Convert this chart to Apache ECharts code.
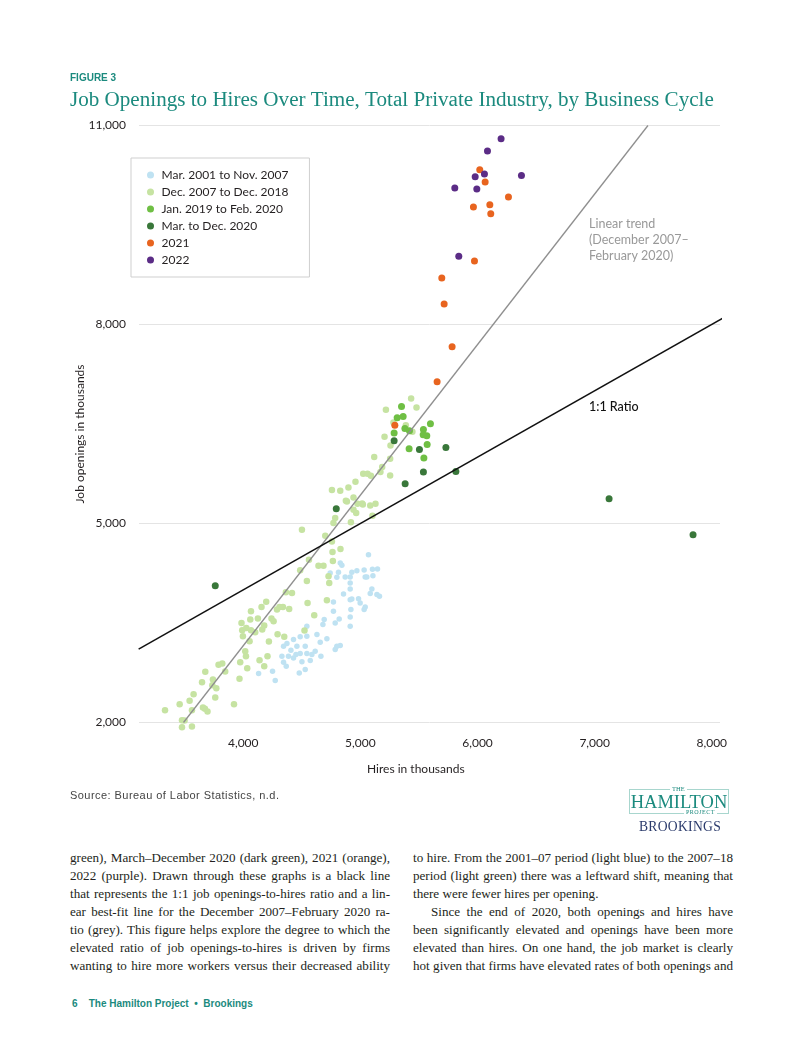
<!DOCTYPE html>
<html>
<head>
<meta charset="utf-8">
<script src="https://cdn.jsdelivr.net/npm/echarts@6/dist/echarts.min.js"></script>
<style>
  html, body { margin:0; padding:0; background:#fff; }
  body { width:802px; height:1037px; position:relative; overflow:hidden; }
  #chart { position:absolute; left:0; top:0; width:802px; height:800px; }
  .abs { position:absolute; }
  .col { position:absolute; top:849px; width:320px; font-family:"Liberation Serif", serif; font-size:13.1px; line-height:18px; color:#231f20; }
  .col div { text-align:justify; text-align-last:justify; white-space:nowrap; }
  .col div.last { text-align-last:left; }
  .col div.ind { text-indent:18px; }
  #src { left:70px; top:789px; font-family:"Liberation Sans", sans-serif; font-size:11px; letter-spacing:0.45px; color:#444; }
  #logo1 { left:629px; top:789px; width:100px; height:25px; border:1px solid #a8d6ce; box-sizing:border-box; text-align:center; font-family:"Liberation Serif", serif; color:#1b8a7e; font-size:18.5px; line-height:24px; }
  #logoThe { left:670px; top:785px; font-family:"Liberation Serif", serif; font-size:6.5px; line-height:7px; color:#1b8a7e; background:#fff; padding:0 2px; }
  #logoProj { left:684px; top:809px; font-family:"Liberation Serif", serif; font-size:6px; line-height:7px; color:#1b8a7e; background:#fff; padding:0 2px; letter-spacing:0.5px; }
  #logo2 { left:639px; top:819px; font-family:"Liberation Serif", serif; font-size:13.6px; color:#2a3a6b; letter-spacing:0.3px; }
  #foot { left:72px; top:998px; font-family:"Liberation Sans", sans-serif; font-size:10px; font-weight:bold; color:#1b8a7e; white-space:pre; }
</style>
</head>
<body>
<div id="chart"></div>
<div class="abs" id="src">Source: Bureau of Labor Statistics, n.d.</div>
<div class="abs" id="logo1">HAMILTON</div>
<div class="abs" id="logoThe">THE</div>
<div class="abs" id="logoProj">PROJECT</div>
<div class="abs" id="logo2">BROOKINGS</div>
<div class="col" style="left:70px;">
  <div>green), March–December 2020 (dark green), 2021 (orange),</div>
  <div>2022 (purple). Drawn through these graphs is a black line</div>
  <div>that represents the 1:1 job openings-to-hires ratio and a lin-</div>
  <div>ear best-fit line for the December 2007–February 2020 ra-</div>
  <div>tio (grey). This figure helps explore the degree to which the</div>
  <div>elevated ratio of job openings-to-hires is driven by firms</div>
  <div>wanting to hire more workers versus their decreased ability</div>
</div>
<div class="col" style="left:413px;">
  <div>to hire. From the 2001–07 period (light blue) to the 2007–18</div>
  <div>period (light green) there was a leftward shift, meaning that</div>
  <div class="last">there were fewer hires per opening.</div>
  <div class="ind">Since the end of 2020, both openings and hires have</div>
  <div>been significantly elevated and openings have been more</div>
  <div>elevated than hires. On one hand, the job market is clearly</div>
  <div>hot given that firms have elevated rates of both openings and</div>
</div>
<div class="abs" id="foot">6    The Hamilton Project  •  Brookings</div>
<script>
// ---- Data (hires, job openings), thousands ----
const seriesNames = ["Mar. 2001 to Nov. 2007","Dec. 2007 to Dec. 2018","Jan. 2019 to Feb. 2020","Mar. to Dec. 2020","2021","2022"];
const xTicks = [4000, 5000, 6000, 7000, 8000];
const yTicks = [2000, 5000, 8000, 11000];

const period2001_2007 = [
 [5069,4530],[4828,4405],[4842,4369],[4742,4254],[4813,4264],[4870,4194],[4927,4264],[4970,4289],[5032,4300],[5103,4309],
 [5146,4315],[4799,4188],[4913,4194],[5041,4194],[5055,4194],[5107,4214],[4913,4104],[5098,4014],[5141,3928],[5163,3902],
 [5084,3943],[4913,4014],[4856,3938],[4927,3863],[4984,3867],[4913,3852],[4998,3803],[4770,3818],[5041,3742],[5032,3702],
 [4919,3702],[4770,3676],[4913,3592],[4819,3562],[4785,3501],[4913,3450],[4691,3551],[4680,3476],[4543,3450],[4629,3325],
 [4486,3291],[4429,3250],[4373,3190],[4543,3300],[4657,3209],[4714,3261],[4799,3149],[4828,3160],[4785,3099],[4529,3149],
 [4458,3149],[4407,3089],[4344,3149],[4450,3024],[4486,3039],[4543,3039],[4614,3074],[4663,2998],[4386,2998],[4330,2998],
 [4344,2908],[4501,2914],[4572,2934],[4367,2848],[4529,2798],[4478,2748],[4250,2773],[4131,2738],[4273,2633],[4429,2974],
 [4586,3024]
];
const period2007_2018 = [
 [4885,5333],[4975,5298],[5021,5288],[5084,5273],[5129,5298],[4941,5208],[4964,5158],[4785,5083],[4770,5008],[4919,5017],
 [5103,5117],[4700,4816],[4757,4730],[4501,4907],[4762,4571],[4830,4616],[4765,4435],[4561,4455],[4642,4364],[4685,4364],
 [4486,4294],[4728,4203],[4734,4104],[4543,4134],[4364,3962],[4416,3953],[4714,3842],[4549,3803],[4196,3822],[4310,3742],
 [4339,3742],[4392,3712],[4156,3742],[4066,3676],[4288,3702],[4606,3616],[3985,3501],[4060,3551],[4125,3566],[4241,3566],
 [4259,3526],[4026,3426],[3991,3390],[4066,3390],[4179,3461],[4162,3401],[3997,3300],[4054,3224],[4102,3360],[4293,3330],
 [4350,3291],[4219,3220],[4523,3386],[4017,3074],[4023,2998],[3974,2908],[3968,2658],[4207,2998],[4139,2938],[4179,2848],
 [4034,2818],[3789,2869],[3821,2889],[3846,2768],[3676,2764],[3648,2607],[3741,2648],[3736,2562],[3770,2517],[3761,2377],
 [3576,2426],[3542,2327],[3457,2276],[3673,2206],[3695,2166],[3656,2226],[3562,2185],[3921,2276],[3332,2185],[3477,2035],
 [3499,2030],[3477,1929],[3562,1940],[5433,6884],[5218,6714],[5479,6748],[5282,6523],[5388,6483],[5444,6382],[5206,6307],
 [5257,6176],[5118,6001],[5254,5976],[5186,5851],[5024,5750],[5061,5750],[5090,5720],[5171,5776],[5254,5724],[4958,5629],
 [4757,5504],[4828,5494],[4898,5544],[4876,5343],[4941,5393],[5015,5303]
];
const period2019_2020 = [
 [5351,6763],[5314,6593],[5365,6613],[5288,6363],[5380,6432],[5419,6398],[5598,6503],[5538,6417],[5536,6337],[5567,6322],
 [5570,6191],[5416,6127],[5542,5986]
];
const period2020 = [
 [3761,4063],[4794,5223],[5382,5599],[5288,6247],[5504,6116],[5730,6146],[5538,5775],[5815,5785],[7123,5373],[7840,4831]
];
const year2021 = [
 [6019,10333],[6065,10148],[6264,9922],[5965,9771],[6105,9806],[6113,9670],[5974,8958],[5695,8700],[5715,8310],[5783,7663],
 [5655,7136],[5294,6483]
];
const year2022 = [
 [6201,10800],[6085,10614],[5980,10227],[6059,10268],[6375,10248],[5806,10057],[5994,10042],[5840,9029]
];
const ratioLine = [[3107,3107],[8120,8120]];
const trendLine = [[3490,2000],[7455,11000]];

const colors = ["#bfe2f2","#c6e3a2","#6fbf44","#39773a","#e8641f","#5b2c86"];
const sizes = [5.5, 6.5, 7, 7, 7, 7];
const dataSets = [period2001_2007, period2007_2018, period2019_2020, period2020, year2021, year2022];

const FONT = "Lato, 'Open Sans', sans-serif";
const chart = echarts.init(document.getElementById('chart'), null, {renderer:'canvas'});
const fmt = v => Number(v).toLocaleString('en-US');

const scatterSeries = dataSets.map((d,i) => ({
  name: seriesNames[i], type:'scatter', data:d, symbolSize:sizes[i],
  itemStyle:{color:colors[i], opacity:1}, clip:false, z:2+i, silent:true
}));

chart.setOption({
  animation:false,
  backgroundColor:'#fff',
  textStyle:{fontFamily:FONT},
  title:[
    {text:'FIGURE 3', left:65, top:68, textStyle:{fontFamily:"'Liberation Sans', sans-serif", fontSize:10, fontWeight:'bold', color:'#1b8a7e'}},
    {text:'Job Openings to Hires Over Time, Total Private Industry, by Business Cycle', left:65, top:85,
     textStyle:{fontFamily:"'Liberation Serif', serif", fontSize:21.1, fontWeight:'normal', color:'#1b8a7e'}}
  ],
  grid:{left:139, right:82, top:125.5, height:597, containLabel:false},
  legend:{
    data:seriesNames, orient:'vertical', left:131, top:158,
    padding:[10,21,10,16], itemGap:3, itemWidth:12, itemHeight:7, icon:'circle',
    borderColor:'#cfcfcf', borderWidth:1, selectedMode:false,
    textStyle:{fontFamily:FONT, fontSize:12, color:'#231f20', lineHeight:14}
  },
  xAxis:{
    type:'value', min:3110, max:8070,
    axisLine:{show:false}, axisTick:{show:false}, splitLine:{show:false},
    axisLabel:{customValues:xTicks, formatter:fmt, fontSize:12, color:'#231f20', margin:15, fontFamily:FONT}
  },
  yAxis:{
    type:'value', min:2000, max:11000, interval:3000,
    axisLine:{show:false}, axisTick:{show:false},
    splitLine:{lineStyle:{color:'#e4e4e4', width:1}},
    axisLabel:{formatter:fmt, fontSize:12, color:'#231f20', margin:13, fontFamily:FONT}
  },
  graphic:[
    {type:'text', left:367, top:763, style:{text:'Hires in thousands', font:"12px "+FONT, fill:'#231f20'}},
    {type:'text', x:74, y:434, rotation:Math.PI/2, style:{text:'Job openings in thousands', font:"12px "+FONT, fill:'#231f20', textAlign:'center', textVerticalAlign:'top'}},
    {type:'text', left:589, top:216, style:{text:'Linear trend\n(December 2007–\nFebruary 2020)', font:"12.5px "+FONT, fill:'#999', lineHeight:16}},
    {type:'text', left:589, top:400, style:{text:'1:1 Ratio', font:"500 12.5px "+FONT, fill:'#111'}}
  ],
  series: scatterSeries.concat([
    {type:'line', data:trendLine, symbol:'none', lineStyle:{color:'#8f8f8f', width:1.3}, clip:false, z:10, silent:true},
    {type:'line', data:ratioLine, symbol:'none', lineStyle:{color:'#111', width:1.5}, clip:false, z:11, silent:true}
  ])
});
</script>
</body>
</html>
